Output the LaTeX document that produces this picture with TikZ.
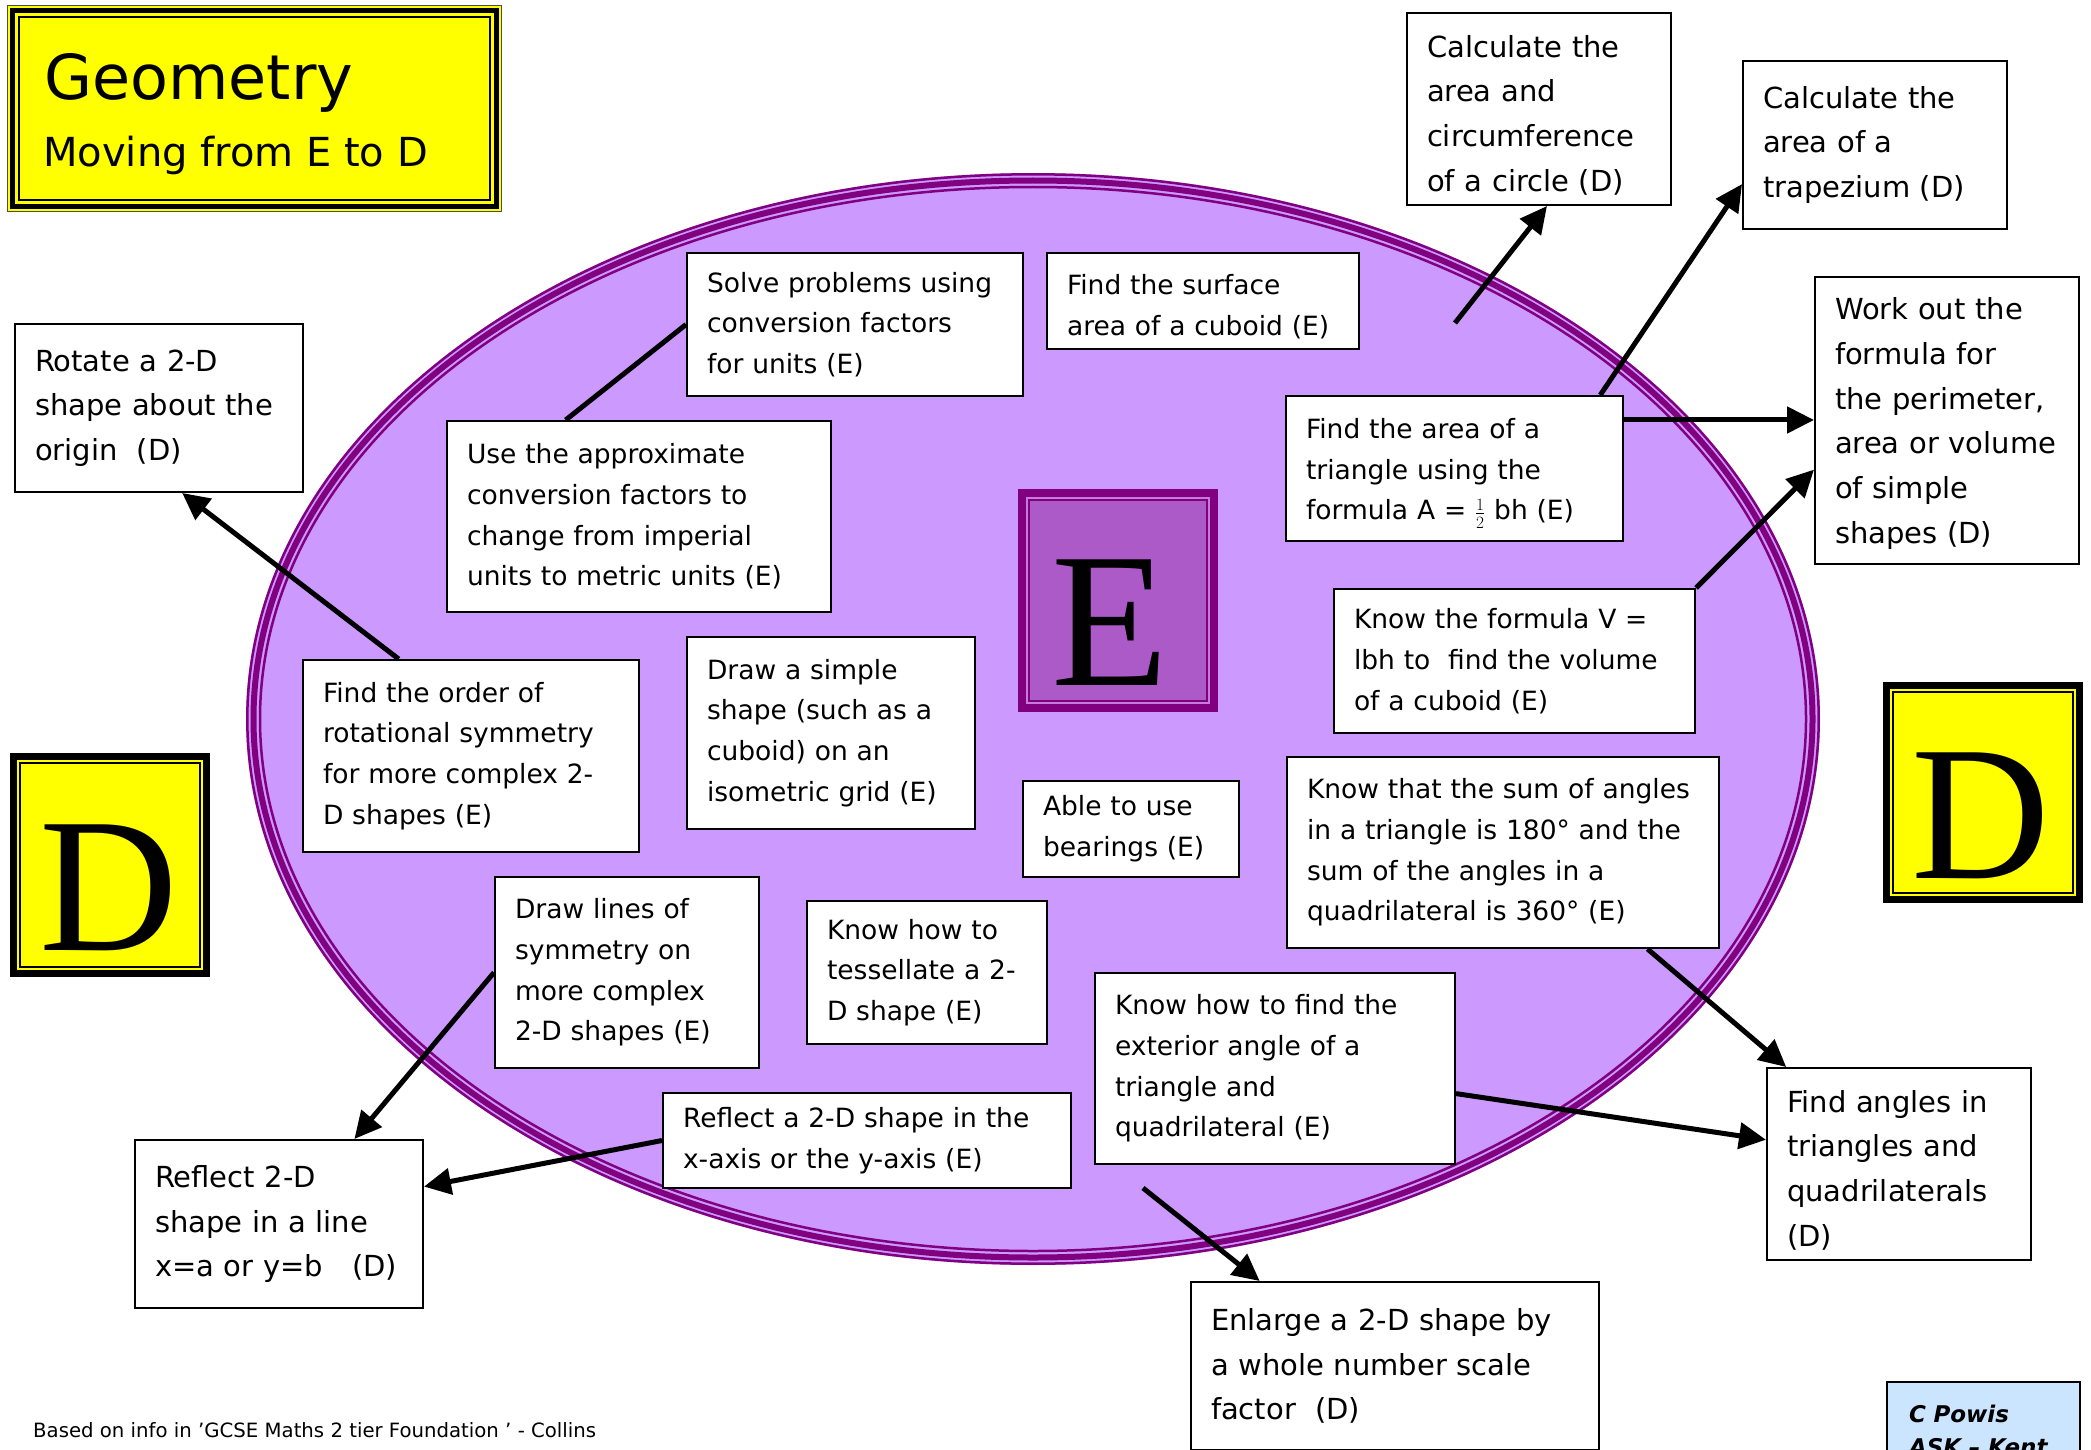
\documentclass[tikz,border=0pt]{standalone}
\usepackage{fontspec}
\setmainfont{DejaVu Sans}
\newfontfamily\lettersfont{Liberation Serif}
\usetikzlibrary{arrows.meta,calc}
\definecolor{ovalfill}{HTML}{CC99FF}
\definecolor{ovalline}{HTML}{800080}
\definecolor{efill}{HTML}{AD5AC9}
\definecolor{egap}{HTML}{C67ADB}
\definecolor{creditfill}{HTML}{CCE5FF}
\definecolor{panelyellow}{RGB}{255,255,0}

\begin{document}
\begin{tikzpicture}[x=1pt,y=-1pt,
  ebox/.style={draw, line width=2pt, fill=white, align=left, inner xsep=20pt, inner ysep=4pt,
               font=\fontsize{26.5}{40.7}\selectfont},
  dbox/.style={ebox, font=\fontsize{29}{44.7}\selectfont},
  nudge/.style={execute at begin node={\rule{0pt}{#1}}},
  arr/.style={line width=5pt, -{Triangle[length=27pt,width=26pt]}},
  link/.style={line width=5pt},
  bigletter/.style={anchor=base, inner sep=0pt, font=\lettersfont\fontsize{192}{192}\selectfont}
]
\useasboundingbox (0,0) rectangle (2091,1450);
\clip (0,0) rectangle (2091,1450);
\fill[white] (0,0) rectangle (2091,1450);

% the oval with its triple purple rim
\fill[ovalfill] (1033,719) ellipse [x radius=787pt, y radius=546pt];
\draw[ovalline, line width=2.5pt] (1033,719) ellipse [x radius=785.7pt, y radius=544.7pt];
\draw[ovalline, line width=6pt] (1033,719) ellipse [x radius=779.5pt, y radius=538.5pt];
\draw[ovalline, line width=2.5pt] (1033,719) ellipse [x radius=773pt, y radius=532pt];

% title panel
\fill[panelyellow] (7,5) rectangle (502,212);
\draw[line width=1.2pt, black!70] (7.6,5.6) rectangle (501.4,211.4);
\draw[line width=5pt] (12.5,10.5) rectangle (496.5,206.5);
\draw[line width=2pt] (19,17) rectangle (490,200);
\node[anchor=base west, inner sep=0pt, font=\fontsize{62}{62}\selectfont] (title) at (44,100) {Geometry};
\node[anchor=base west, inner sep=0pt, font=\fontsize{40}{40}\selectfont] (subtitle) at (43,167) {Moving from E to D};

% grade E panel
\fill[efill] (1018,489) rectangle (1218,712);
\draw[ovalline, line width=8pt] (1022,493) rectangle (1214,708);
\draw[egap, line width=2pt] (1027,498) rectangle (1209,703);
\draw[ovalline, line width=2pt] (1029,500) rectangle (1207,701);
\node[bigletter] (eletter) at (1110,685) {E};

% grade D panels
\fill[panelyellow] (1883,682) rectangle (2083,903);
\draw[line width=7pt] (1886.5,685.5) rectangle (2079.5,899.5);
\draw[line width=2pt] (1893,692) rectangle (2073,893);
\node[bigletter] (dright) at (1981,878) {D};

\fill[panelyellow] (10,753) rectangle (210,977);
\draw[line width=7pt] (13.5,756.5) rectangle (206.5,973.5);
\draw[line width=2pt] (20,763) rectangle (200,967);
\node[bigletter] (dleft) at (109,950) {D};

% topic boxes
\node[dbox, nudge=34pt, text width=224pt, minimum height=192pt] (circ) at (1539,109) {Calculate the\\area and\\circumference\\of a circle (D)};
\node[dbox, text width=224pt, minimum height=168pt] (trap) at (1875,145) {Calculate the\\area of a\\trapezium (D)};
\node[dbox, nudge=28pt, text width=224pt, minimum height=287pt] (work) at (1947,420.5) {Work out the\\formula for\\the perimeter,\\area or volume\\of simple\\shapes (D)};
\node[dbox, text width=248pt, minimum height=168pt] (rot) at (159,408) {Rotate a 2-D\\shape about the\\origin\ \ (D)};
\node[ebox, text width=296pt, minimum height=143pt] (solve) at (855,324.5) {Solve problems using\\conversion factors\\for units (E)};
\node[ebox, nudge=32pt, text width=272pt, minimum height=96pt] (surf) at (1203,301) {Find the surface\\area of a cuboid (E)};
\node[ebox, text width=344pt, minimum height=191pt] (approx) at (639,516.5) {Use the approximate\\conversion factors to\\change from imperial\\units to metric units (E)};
\node[ebox, nudge=30pt, text width=297pt, minimum height=145pt] (tri) at (1454.5,468.5) {Find the area of a\\triangle using the\\formula A = \(\frac{1}{2}\) bh (E)};
\node[ebox, text width=321pt, minimum height=144pt] (vol) at (1514.5,661) {Know the formula V =\\lbh to\ \ find the volume\\of a cuboid (E)};
\node[ebox, text width=296pt, minimum height=192pt] (order) at (471,756) {Find the order of\\rotational symmetry\\for more complex 2-\\D shapes (E)};
\node[ebox, text width=248pt, minimum height=192pt] (iso) at (831,733) {Draw a simple\\shape (such as a\\cuboid) on an\\isometric grid (E)};
\node[ebox, text width=176pt, minimum height=96pt] (bear) at (1131,829) {Able to use\\bearings (E)};
\node[ebox, text width=392pt, minimum height=191pt] (sum) at (1503,852.5) {Know that the sum of angles\\in a triangle is 180° and the\\sum of the angles in a\\quadrilateral is 360° (E)};
\node[ebox, text width=224pt, minimum height=191pt] (sym) at (627,972.5) {Draw lines of\\symmetry on\\more complex\\2-D shapes (E)};
\node[ebox, text width=200pt, minimum height=143pt] (tess) at (927,972.5) {Know how to\\tessellate a 2-\\D shape (E)};
\node[ebox, text width=320pt, minimum height=191pt] (ext) at (1275,1068.5) {Know how to find the\\exterior angle of a\\triangle and\\quadrilateral (E)};
\node[ebox, text width=368pt, minimum height=95pt] (reflx) at (867,1140.5) {Reflect a 2-D shape in the\\x-axis or the y-axis (E)};
\node[dbox, text width=248pt, minimum height=168pt] (refl) at (279,1224) {Reflect 2-D\\shape in a line\\x=a or y=b\ \ \ (D)};
\node[dbox, nudge=34pt, text width=224pt, minimum height=192pt] (fang) at (1899,1164) {Find angles in\\triangles and\\quadrilaterals\\(D)};
\node[dbox, text width=368pt, minimum height=168pt] (enl) at (1395,1366) {Enlarge a 2-D shape by\\a whole number scale\\factor\ \ (D)};

% credit and source
\node[draw, line width=2pt, fill=creditfill, anchor=north west, text width=149pt, align=left,
      inner xsep=22pt, inner ysep=23.5pt, font=\bfseries\itshape\fontsize{23}{33}\selectfont] (credit) at (1886,1381) {C Powis\\ASK – Kent};
\node[anchor=base west, inner sep=0pt, font=\fontsize{19.7}{19.7}\selectfont] (source) at (33,1437) {Based on info in 'GCSE Maths 2 tier Foundation ' - Collins};

% connectors
\coordinate (circfoot) at (1455,323);
\coordinate (enlfoot) at (1143,1188);
\coordinate (triright) at ($(tri.north east)!0.17!(tri.south east)$);
\draw[arr] (circfoot) -- ($(circ.south west)!0.53!(circ.south east)$);
\draw[arr] ($(tri.north west)!0.93!(tri.north east)$) -- ($(trap.north west)!0.73!(trap.south west)$);
\draw[arr] (triright) -- (triright -| work.west);
\draw[arr] (vol.north east) -- ($(work.north west)!0.67!(work.south west)$);
\draw[arr] ($(order.north west)!0.286!(order.north east)$) -- ($(rot.south west)!0.58!(rot.south east)$);
\draw[link] ($(approx.north west)!0.31!(approx.north east)$) -- (solve.west);
\draw[arr] (sym.west) -- ($(refl.north west)!0.76!(refl.north east)$);
\draw[arr] (reflx.west) -- ($(refl.north east)!0.28!(refl.south east)$);
\draw[arr] ($(ext.north east)!0.63!(ext.south east)$) -- ($(fang.north west)!0.375!(fang.south west)$);
\draw[arr] ($(sum.south west)!0.833!(sum.south east)$) -- ($(fang.north west)!0.076!(fang.north east)$);
\draw[arr] (enlfoot) -- ($(enl.north west)!0.17!(enl.north east)$);
\end{tikzpicture}
\end{document}
